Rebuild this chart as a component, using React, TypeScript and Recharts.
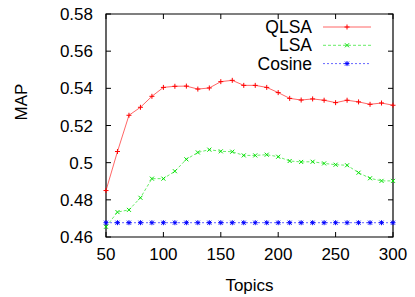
import { LineChart, Line, XAxis, YAxis, ReferenceArea } from "recharts";

const topics = [50, 60, 70, 80, 90, 100, 110, 120, 130, 140, 150, 160, 170, 180, 190, 200, 210, 220, 230, 240, 250, 260, 270, 280, 290, 300];
const qlsa = [0.485, 0.506, 0.5255, 0.5298, 0.5357, 0.5405, 0.5411, 0.5412, 0.5396, 0.5402, 0.5436, 0.5443, 0.5416, 0.5416, 0.5405, 0.5377, 0.5346, 0.5337, 0.5343, 0.5336, 0.5323, 0.5336, 0.5327, 0.5314, 0.5321, 0.5309];
const lsa = [0.4655, 0.4734, 0.4746, 0.4811, 0.4914, 0.4914, 0.4954, 0.5018, 0.5055, 0.507, 0.5061, 0.5059, 0.5039, 0.5039, 0.5043, 0.5032, 0.5009, 0.5004, 0.5005, 0.4996, 0.4989, 0.4986, 0.4946, 0.4916, 0.4902, 0.4902];
const cosine = [0.4677, 0.4677, 0.4677, 0.4677, 0.4677, 0.4677, 0.4677, 0.4677, 0.4677, 0.4677, 0.4677, 0.4677, 0.4677, 0.4677, 0.4677, 0.4677, 0.4677, 0.4677, 0.4677, 0.4677, 0.4677, 0.4677, 0.4677, 0.4677, 0.4677, 0.4677];
const xTicks = [50, 100, 150, 200, 250, 300];
const yTicks = [0.46, 0.48, 0.5, 0.52, 0.54, 0.56, 0.58];

const data = topics.map((t, i) => ({ t, qlsa: qlsa[i], lsa: lsa[i], cosine: cosine[i] }));

const W = 415;
const H = 297;
const M = { top: 14, right: 22, bottom: 0, left: 0 };
const YW = 106;
const XH = 60;
const plotW = W - M.left - M.right - YW;
const plotH = H - M.top - M.bottom - XH;
const font = "'Liberation Sans', Arial, sans-serif";
const FS = 17;

const RED = "#ff0000";
const GREEN = "#00e000";
const BLUE = "#0000ff";

function Plus({ cx, cy, c }: any) {
  return (
    <g stroke={c} strokeWidth={1}>
      <line x1={cx - 2.5} y1={cy} x2={cx + 2.5} y2={cy} />
      <line x1={cx} y1={cy - 2.5} x2={cx} y2={cy + 2.5} />
    </g>
  );
}
function Cross({ cx, cy, c }: any) {
  return (
    <g stroke={c} strokeWidth={1}>
      <line x1={cx - 2} y1={cy - 2} x2={cx + 2} y2={cy + 2} />
      <line x1={cx - 2} y1={cy + 2} x2={cx + 2} y2={cy - 2} />
    </g>
  );
}
function Star({ cx, cy, c }: any) {
  return (
    <g>
      <Plus cx={cx} cy={cy} c={c} />
      <Cross cx={cx} cy={cy} c={c} />
    </g>
  );
}

const YTick = ({ x, y, payload }: any) => (
  <g>
    <line x1={x} y1={y} x2={x + 5} y2={y} stroke="#000" />
    <line x1={x + plotW - 5} y1={y} x2={x + plotW} y2={y} stroke="#000" />
    <text x={x - 13} y={y + 6} textAnchor="end" fontSize={FS} fontFamily={font} fill="#000">
      {payload.value}
    </text>
  </g>
);

const XTick = ({ x, y, payload }: any) => (
  <g>
    <line x1={x} y1={y} x2={x} y2={y - 5} stroke="#000" />
    <line x1={x} y1={y - plotH} x2={x} y2={y - plotH + 5} stroke="#000" />
    <text x={x} y={y + 23} textAnchor="middle" fontSize={FS} fontFamily={font} fill="#000">
      {payload.value}
    </text>
  </g>
);

const legendRows = [
  { name: "QLSA", c: RED, dash: undefined, M: Plus },
  { name: "LSA", c: GREEN, dash: "3 2", M: Cross },
  { name: "Cosine", c: BLUE, dash: "2 2", M: Star },
];

export default function App() {
  return (
    <div style={{ position: "absolute", left: 0, top: 0, width: W, height: H, background: "#fff" }}>
      <LineChart width={W} height={H} data={data} margin={M}>
        <XAxis
          dataKey="t"
          type="number"
          domain={[50, 300]}
          ticks={xTicks}
          height={XH}
          tickLine={false}
          axisLine={false}
          tickSize={0}
          tickMargin={0}
          tick={<XTick />}
          interval={0}
        />
        <YAxis
          type="number"
          domain={[0.46, 0.58]}
          ticks={yTicks}
          width={YW}
          tickLine={false}
          axisLine={false}
          tickSize={0}
          tickMargin={0}
          tick={<YTick />}
          interval={0}
          allowDataOverflow
        />
        <Line
          dataKey="cosine"
          stroke={BLUE}
          strokeOpacity={0.6}
          strokeDasharray="2 2"
          dot={(p: any) => <Star key={p.index} cx={p.cx} cy={p.cy} c={BLUE} />}
          isAnimationActive={false}
        />
        <Line
          dataKey="lsa"
          stroke={GREEN}
          strokeOpacity={0.6}
          strokeDasharray="3 2"
          dot={(p: any) => <Cross key={p.index} cx={p.cx} cy={p.cy} c={GREEN} />}
          isAnimationActive={false}
        />
        <Line
          dataKey="qlsa"
          stroke={RED}
          strokeOpacity={0.6}
          dot={(p: any) => <Plus key={p.index} cx={p.cx} cy={p.cy} c={RED} />}
          isAnimationActive={false}
        />
        <ReferenceArea x1={50} x2={300} y1={0.46} y2={0.58} stroke="#000" strokeWidth={1.2} fill="none" fillOpacity={0} />
        <g>
          {legendRows.map((r, i) => {
            const y = 27 + i * 18.3;
            const Mk = r.M;
            return (
              <g key={r.name}>
                <text x={312} y={y + 6} textAnchor="end" fontSize={17.5} fontFamily={font} fill="#000">
                  {r.name}
                </text>
                <line x1={323} y1={y} x2={371} y2={y} stroke={r.c} strokeDasharray={r.dash} strokeOpacity={0.6} />
                <Mk cx={347} cy={y} c={r.c} />
              </g>
            );
          })}
        </g>
        <text x={27} y={102} transform="rotate(-90 27 102)" textAnchor="middle" fontSize={FS} fontFamily={font} fill="#000">
          MAP
        </text>
        <text x={YW + plotW / 2} y={291} textAnchor="middle" fontSize={FS} fontFamily={font} fill="#000">
          Topics
        </text>
      </LineChart>
    </div>
  );
}
